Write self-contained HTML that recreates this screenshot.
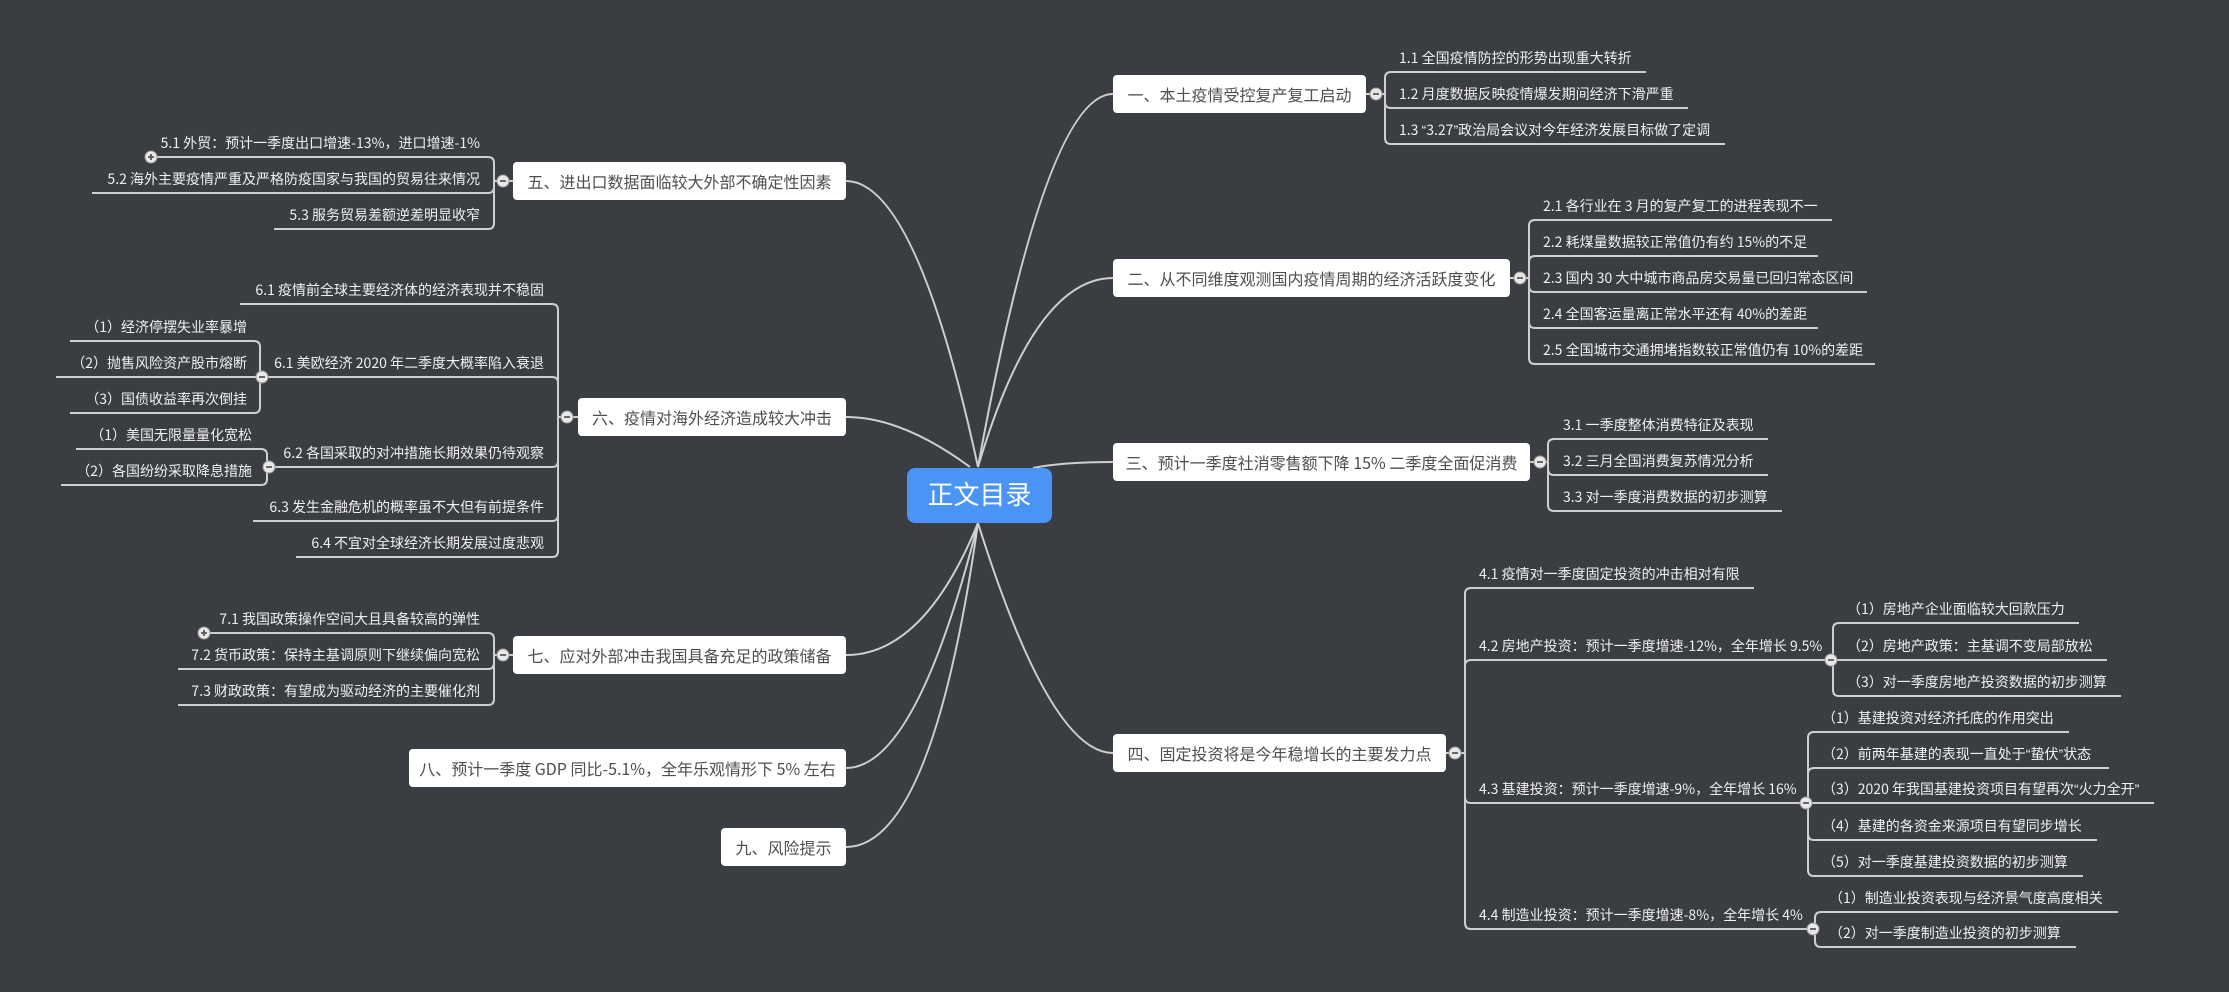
<!DOCTYPE html>
<html><head><meta charset="utf-8">
<style>
html,body{margin:0;padding:0;}
body{width:2229px;height:992px;background:#3a3d42;position:relative;overflow:hidden;font-family:"Liberation Sans Narrow","Noto Sans CJK SC",sans-serif;}
svg{position:absolute;left:0;top:0;}
.b{position:absolute;background:#fff;border-radius:4px;color:#4e4e4e;font-size:16px;height:38px;line-height:38px;text-align:center;white-space:nowrap;}
.c{position:absolute;color:#f0f0f0;font-size:14px;height:20px;line-height:20px;white-space:nowrap;}
.l{text-align:right;}
.q{font-family:"Liberation Sans",sans-serif;}
.ctr{position:absolute;left:907px;top:468px;width:145px;height:55px;background:#4a94f6;border-radius:8px;color:#fff;font-size:26px;line-height:55px;text-align:center;font-family:"Liberation Sans","Noto Sans CJK SC",sans-serif;}
</style></head><body>
<svg width="2229" height="992" viewBox="0 0 2229 992">
<g fill="none" stroke="#cfcfcf" stroke-width="2">
<path d="M978 467 Q1046 94 1113 94"/>
<path d="M978 467 Q1034 278 1113 278"/>
<path d="M1033 468 Q1062 462 1113 462"/>
<path d="M978 523 Q1050 753 1113 753"/>
<path d="M978 467 Q916 181 846 181"/>
<path d="M970 467 Q902 417 846 417"/>
<path d="M978 523 Q924 655 846 655"/>
<path d="M978 523 Q916 768 846 768"/>
<path d="M978 523 Q932 847 846 847"/>
<path d="M1366 94 H1385 M1385 78 V138"/>
<path d="M1385 78 Q1385 72 1391 72 H1646"/>
<path d="M1385 102 Q1385 108 1391 108 H1688"/>
<path d="M1385 138 Q1385 144 1391 144 H1725"/>
<path d="M1510 278 H1529 M1529 226 V358"/>
<path d="M1529 226 Q1529 220 1535 220 H1832"/>
<path d="M1529 262 Q1529 256 1535 256 H1818"/>
<path d="M1529 286 Q1529 292 1535 292 H1867"/>
<path d="M1529 322 Q1529 328 1535 328 H1818"/>
<path d="M1529 358 Q1529 364 1535 364 H1875"/>
<path d="M1530 462 H1548 M1548 445 V505"/>
<path d="M1548 445 Q1548 439 1554 439 H1768"/>
<path d="M1548 469 Q1548 475 1554 475 H1768"/>
<path d="M1548 505 Q1548 511 1554 511 H1782"/>
<path d="M1446 753 H1465 M1465 594 V923"/>
<path d="M1465 594 Q1465 588 1471 588 H1754"/>
<path d="M1465 666 Q1465 660 1471 660 H1831"/>
<path d="M1465 797 Q1465 803 1471 803 H1806"/>
<path d="M1465 923 Q1465 929 1471 929 H1813"/>
<path d="M1833 629 V690"/>
<path d="M1833 629 Q1833 623 1839 623 H2079"/>
<path d="M1833 660 H2107"/>
<path d="M1833 690 Q1833 696 1839 696 H2121"/>
<path d="M1808 738 V870"/>
<path d="M1808 738 Q1808 732 1814 732 H2069"/>
<path d="M1808 774 Q1808 768 1814 768 H2109"/>
<path d="M1808 803 H2154"/>
<path d="M1808 834 Q1808 840 1814 840 H2097"/>
<path d="M1808 870 Q1808 876 1814 876 H2083"/>
<path d="M1815 918 V941"/>
<path d="M1815 918 Q1815 912 1821 912 H2118"/>
<path d="M1815 941 Q1815 947 1821 947 H2076"/>
<path d="M513 181 H494 M494 163 V223"/>
<path d="M494 163 Q494 157 488 157 H157"/>
<path d="M494 187 Q494 193 488 193 H92"/>
<path d="M494 223 Q494 229 488 229 H274"/>
<path d="M578 417 H558 M558 310 V551"/>
<path d="M558 310 Q558 304 552 304 H240"/>
<path d="M558 383 Q558 377 552 377 H262"/>
<path d="M558 461 Q558 467 552 467 H269"/>
<path d="M558 515 Q558 521 552 521 H253"/>
<path d="M558 551 Q558 557 552 557 H296"/>
<path d="M260 347 V407"/>
<path d="M260 347 Q260 341 254 341 H70"/>
<path d="M260 377 H56"/>
<path d="M260 407 Q260 413 254 413 H70"/>
<path d="M267 455 V479"/>
<path d="M267 455 Q267 449 261 449 H76"/>
<path d="M267 479 Q267 485 261 485 H61"/>
<path d="M513 655 H494 M494 639 V699"/>
<path d="M494 639 Q494 633 488 633 H210"/>
<path d="M494 663 Q494 669 488 669 H178"/>
<path d="M494 699 Q494 705 488 705 H178"/>
</g>
<g fill="#e8e8e8" stroke="#9c9c9c" stroke-width="1">
<circle cx="1376" cy="94" r="6"/>
<circle cx="1520" cy="278" r="6"/>
<circle cx="1540" cy="462" r="6"/>
<circle cx="1455" cy="753" r="6"/>
<circle cx="1831" cy="660" r="6"/>
<circle cx="1806" cy="803" r="6"/>
<circle cx="1813" cy="929" r="6"/>
<circle cx="503" cy="181" r="6"/>
<circle cx="567" cy="417" r="6"/>
<circle cx="503" cy="655" r="6"/>
<circle cx="262" cy="377" r="6"/>
<circle cx="269" cy="467" r="6"/>
<circle cx="151" cy="157" r="6"/>
<circle cx="204" cy="633" r="6"/>
</g>
<g stroke="#555" stroke-width="1.8">
<path d="M1373 94 H1379 M1517 278 H1523 M1537 462 H1543 M1452 753 H1458 M1828 660 H1834 M1803 803 H1809 M1810 929 H1816 M500 181 H506 M564 417 H570 M500 655 H506 M259 377 H265 M266 467 H272"/>
<path d="M148 157 H154 M151 154 V160 M201 633 H207 M204 630 V636"/>
</g>
</svg>

<div class="ctr">正文目录</div>

<div class="b" style="left:1113px;top:75px;width:253px;">一、本土疫情受控复产复工启动</div>
<div class="b" style="left:1113px;top:259px;width:397px;">二、从不同维度观测国内疫情周期的经济活跃度变化</div>
<div class="b" style="left:1113px;top:443px;width:417px;">三、预计一季度社消零售额下降 15% 二季度全面促消费</div>
<div class="b" style="left:1113px;top:734px;width:333px;">四、固定投资将是今年稳增长的主要发力点</div>
<div class="b" style="left:513px;top:162px;width:333px;">五、进出口数据面临较大外部不确定性因素</div>
<div class="b" style="left:578px;top:398px;width:268px;">六、疫情对海外经济造成较大冲击</div>
<div class="b" style="left:513px;top:636px;width:333px;">七、应对外部冲击我国具备充足的政策储备</div>
<div class="b" style="left:409px;top:749px;width:437px;">八、预计一季度 GDP 同比-5.1%，全年乐观情形下 5% 左右</div>
<div class="b" style="left:721px;top:828px;width:125px;">九、风险提示</div>

<div class="c" style="left:1399px;top:48px;">1.1 全国疫情防控的形势出现重大转折</div>
<div class="c" style="left:1399px;top:84px;">1.2 月度数据反映疫情爆发期间经济下滑严重</div>
<div class="c" style="left:1399px;top:120px;">1.3 <span class="q">“</span>3.27<span class="q">”</span>政治局会议对今年经济发展目标做了定调</div>
<div class="c" style="left:1543px;top:196px;">2.1 各行业在 3 月的复产复工的进程表现不一</div>
<div class="c" style="left:1543px;top:232px;">2.2 耗煤量数据较正常值仍有约 15%的不足</div>
<div class="c" style="left:1543px;top:268px;">2.3 国内 30 大中城市商品房交易量已回归常态区间</div>
<div class="c" style="left:1543px;top:304px;">2.4 全国客运量离正常水平还有 40%的差距</div>
<div class="c" style="left:1543px;top:340px;">2.5 全国城市交通拥堵指数较正常值仍有 10%的差距</div>
<div class="c" style="left:1563px;top:415px;">3.1 一季度整体消费特征及表现</div>
<div class="c" style="left:1563px;top:451px;">3.2 三月全国消费复苏情况分析</div>
<div class="c" style="left:1563px;top:487px;">3.3 对一季度消费数据的初步测算</div>
<div class="c" style="left:1479px;top:564px;">4.1 疫情对一季度固定投资的冲击相对有限</div>
<div class="c" style="left:1479px;top:636px;">4.2 房地产投资：预计一季度增速-12%，全年增长 9.5%</div>
<div class="c" style="left:1479px;top:779px;">4.3 基建投资：预计一季度增速-9%，全年增长 16%</div>
<div class="c" style="left:1479px;top:905px;">4.4 制造业投资：预计一季度增速-8%，全年增长 4%</div>
<div class="c" style="left:1847px;top:599px;">（1）房地产企业面临较大回款压力</div>
<div class="c" style="left:1847px;top:636px;">（2）房地产政策：主基调不变局部放松</div>
<div class="c" style="left:1847px;top:672px;">（3）对一季度房地产投资数据的初步测算</div>
<div class="c" style="left:1822px;top:708px;">（1）基建投资对经济托底的作用突出</div>
<div class="c" style="left:1822px;top:744px;">（2）前两年基建的表现一直处于<span class="q">“</span>蛰伏<span class="q">”</span>状态</div>
<div class="c" style="left:1822px;top:779px;">（3）2020 年我国基建投资项目有望再次<span class="q">“</span>火力全开<span class="q">”</span></div>
<div class="c" style="left:1822px;top:816px;">（4）基建的各资金来源项目有望同步增长</div>
<div class="c" style="left:1822px;top:852px;">（5）对一季度基建投资数据的初步测算</div>
<div class="c" style="left:1829px;top:888px;">（1）制造业投资表现与经济景气度高度相关</div>
<div class="c" style="left:1829px;top:923px;">（2）对一季度制造业投资的初步测算</div>

<div class="c l" style="right:1749px;top:133px;">5.1 外贸：预计一季度出口增速-13%，进口增速-1%</div>
<div class="c l" style="right:1749px;top:169px;">5.2 海外主要疫情严重及严格防疫国家与我国的贸易往来情况</div>
<div class="c l" style="right:1749px;top:205px;">5.3 服务贸易差额逆差明显收窄</div>
<div class="c l" style="right:1685px;top:280px;">6.1 疫情前全球主要经济体的经济表现并不稳固</div>
<div class="c l" style="right:1685px;top:353px;">6.1 美欧经济 2020 年二季度大概率陷入衰退</div>
<div class="c l" style="right:1685px;top:443px;">6.2 各国采取的对冲措施长期效果仍待观察</div>
<div class="c l" style="right:1685px;top:497px;">6.3 发生金融危机的概率虽不大但有前提条件</div>
<div class="c l" style="right:1685px;top:533px;">6.4 不宜对全球经济长期发展过度悲观</div>
<div class="c l" style="right:1982px;top:317px;">（1）经济停摆失业率暴增</div>
<div class="c l" style="right:1982px;top:353px;">（2）抛售风险资产股市熔断</div>
<div class="c l" style="right:1982px;top:389px;">（3）国债收益率再次倒挂</div>
<div class="c l" style="right:1977px;top:425px;">（1）美国无限量量化宽松</div>
<div class="c l" style="right:1977px;top:461px;">（2）各国纷纷采取降息措施</div>
<div class="c l" style="right:1749px;top:609px;">7.1 我国政策操作空间大且具备较高的弹性</div>
<div class="c l" style="right:1749px;top:645px;">7.2 货币政策：保持主基调原则下继续偏向宽松</div>
<div class="c l" style="right:1749px;top:681px;">7.3 财政政策：有望成为驱动经济的主要催化剂</div>
</body></html>
